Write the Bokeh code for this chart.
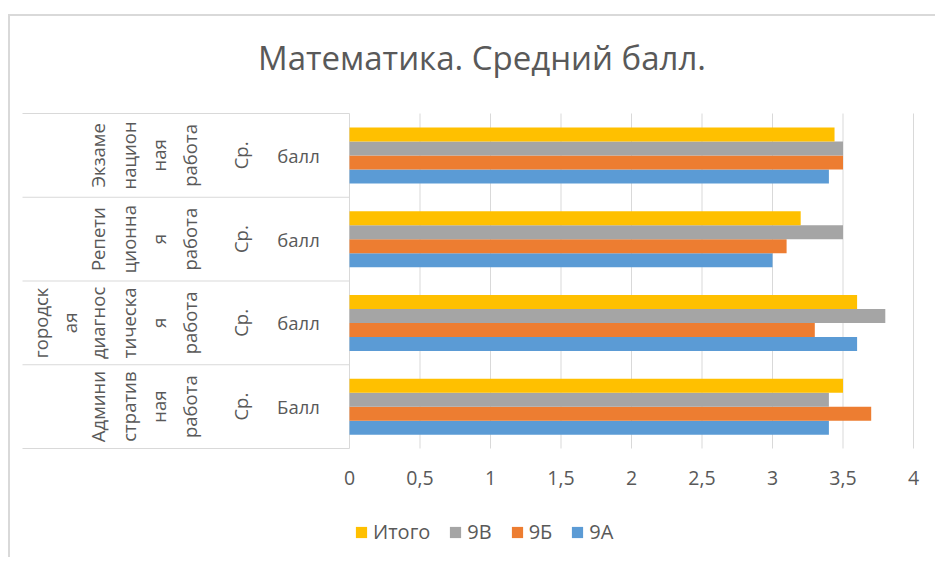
import numpy as np
from bokeh.plotting import figure
from bokeh.models import Range1d, FixedTicker, Legend, LegendItem
from bokeh.core.properties import value
from bokeh.embed import file_html
from bokeh.resources import INLINE

# ---------------- data ----------------
chart_title = "Математика. Средний балл."
# category groups, bottom to top (wrapped as in the original)
work_lines = [
    ["Админи", "стратив", "ная", "работа"],
    ["диагнос", "тическа", "я", "работа"],
    ["Репети", "ционна", "я", "работа"],
    ["Экзаме", "национ", "ная", "работа"],
]
level0_lines = [[], ["городск", "ая"], [], []]
measure_labels = ["Ср.", "Ср.", "Ср.", "Ср."]
unit_labels = ["Балл", "балл", "балл", "балл"]

series_names = ["9А", "9Б", "9В", "Итого"]
values_9a = [3.4, 3.6, 3.0, 3.4]
values_9b = [3.7, 3.3, 3.1, 3.5]
values_9v = [3.4, 3.8, 3.5, 3.5]
values_total = [3.5, 3.6, 3.2, 3.44]
series_colors = ["#5B9BD5", "#ED7D31", "#A5A5A5", "#FFC000"]

x_ticks = [0, 0.5, 1, 1.5, 2, 2.5, 3, 3.5, 4]
x_tick_labels = ["0", "0,5", "1", "1,5", "2", "2,5", "3", "3,5", "4"]

# ---------------- layout (page pixels) ----------------
W, H = 927, 543
CANVAS_X, CANVAS_Y = 10, 16          # canvas origin on the page (after 2px border)
FRAME_BOTTOM = CANVAS_Y + H
X0_PX, X4_PX = 349, 913
YTOP_PX, YBOT_PX = 113, 448
SX = (X4_PX - X0_PX) / 4.0
SY = (YBOT_PX - YTOP_PX) / 4.0


def dx(px):
    return (px - X0_PX) / SX


def dy(py):
    return -0.5 + (YBOT_PX - py) / SY


FONT = "Open Sans"
TXT = "#595959"
LINE = "#d9d9d9"
FS = "18.5px"

p = figure(width=W, height=H, output_backend="svg", toolbar_location=None,
           x_range=Range1d(dx(CANVAS_X), dx(CANVAS_X + W)),
           y_range=Range1d(dy(FRAME_BOTTOM), dy(CANVAS_Y)),
           y_axis_location=None,
           min_border_left=0, min_border_right=0, min_border_top=0, min_border_bottom=0)
p.styles = {"border-left": "2px solid #d9d9d9", "border-top": "2px solid #d9d9d9",
            "position": "relative", "left": "8px", "top": "14px"}
p.outline_line_color = None
p.xgrid.visible = False
p.ygrid.visible = False
p.background_fill_color = "white"
p.border_fill_color = "white"

# value gridlines and category axis line
p.segment(x0=x_ticks[1:], y0=-0.5, x1=x_ticks[1:], y1=3.5, line_color=LINE, line_width=1)
p.segment(x0=[0], y0=-0.5, x1=[0], y1=3.5, line_color=LINE, line_width=1)
# category table lines
bounds = [g - 0.5 for g in range(len(work_lines) + 1)]
p.segment(x0=dx(22), y0=bounds, x1=0, y1=bounds, line_color=LINE, line_width=1)

# bars
bar_h = 14.0 / SY
renderers = []
for k, (vals, col) in enumerate(zip([values_9a, values_9b, values_9v, values_total], series_colors)):
    off = (k - 1.5) * bar_h
    r = p.hbar(y=[i + off for i in range(len(vals))], left=0, right=vals, height=bar_h,
               fill_color=col, line_color=None)
    renderers.append(r)

# category labels
common = dict(text_font=value(FONT), text_font_size=FS, text_color=TXT,
              text_align="center", text_baseline="middle")
work_cols = [97, 128, 158, 189]
for gi, lines in enumerate(work_lines):
    p.text(x=[dx(c) for c in work_cols[:len(lines)]], y=[gi] * len(lines), text=lines,
           angle=np.pi / 2, **common)
lvl0_cols = [40, 69]
for gi, lines in enumerate(level0_lines):
    if lines:
        p.text(x=[dx(c) for c in lvl0_cols[:len(lines)]], y=[gi] * len(lines), text=lines,
               angle=np.pi / 2, **common)
p.text(x=[dx(240)] * len(measure_labels), y=list(range(len(measure_labels))), text=measure_labels,
       angle=np.pi / 2, **common)
p.text(x=[dx(298)] * len(unit_labels), y=list(range(len(unit_labels))), text=unit_labels, **common)

# title
p.text(x=[dx(481.5)], y=[dy(56.5)], text=[chart_title], text_font=value(FONT),
       text_font_size="33px", text_color=TXT, text_align="center", text_baseline="middle")

# x axis, drawn at the bottom of the plot area
ax = p.xaxis[0]
ax.fixed_location = -0.5
ax.ticker = FixedTicker(ticks=x_ticks)
ax.major_label_overrides = {t: l for t, l in zip(x_ticks, x_tick_labels)}
ax.axis_line_color = None
ax.major_tick_line_color = None
ax.minor_tick_line_color = None
ax.major_label_standoff = 16
ax.major_label_text_font = FONT
ax.major_label_text_font_size = "19.5px"
ax.major_label_text_color = TXT

# legend (inside the frame, below the plot area)
order = [3, 2, 1, 0]
legend = Legend(items=[LegendItem(label=series_names[k], renderers=[renderers[k]]) for k in order],
                orientation="horizontal", location=(354 - CANVAS_X, FRAME_BOTTOM - 545),
                glyph_width=14, glyph_height=14, label_standoff=5, spacing=18,
                padding=0, margin=0, border_line_color=None, background_fill_alpha=0,
                label_text_font=FONT, label_text_font_size="20px", label_text_color=TXT)
p.add_layout(legend)

open("out.html", "w").write(file_html(p, INLINE))
